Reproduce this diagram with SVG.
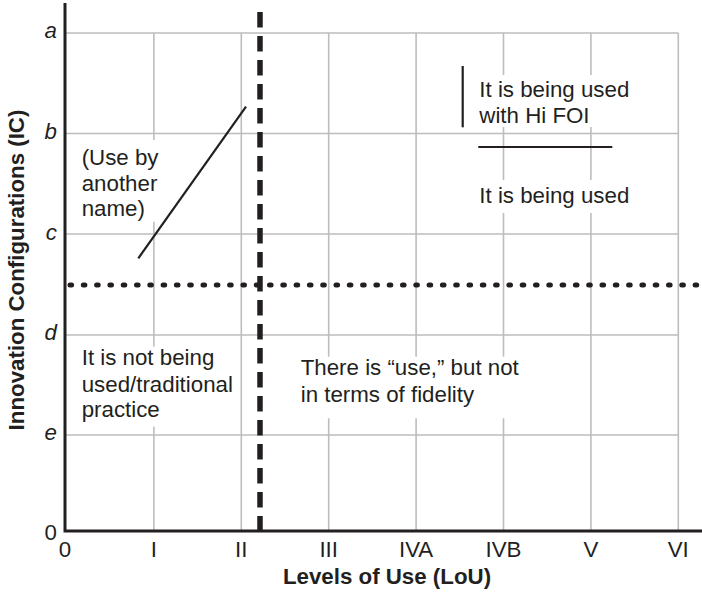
<svg xmlns="http://www.w3.org/2000/svg" width="702" height="599" viewBox="0 0 702 599">
  <style>
    text { font-family: "Liberation Sans", Arial, Helvetica, sans-serif; font-size: 22.3px; fill: #231f20; }
    .grid line { stroke: #bdbdbd; stroke-width: 1.6; }
    .axis { stroke: #231f20; stroke-width: 3; fill: none; }
    .ylab { font-style: italic; text-anchor: end; }
    .xlab { text-anchor: middle; }
    .title { font-weight: bold; }
    .mask { fill: #ffffff; }
    .mark { stroke: #231f20; stroke-width: 2.2; fill: none; }
  </style>

  <rect width="702" height="599" fill="#ffffff"/>

  <!-- grid -->
  <g class="grid">
    <line x1="65" y1="33" x2="678.3" y2="33"/>
    <line x1="65" y1="133.5" x2="678.3" y2="133.5"/>
    <line x1="65" y1="234" x2="678.3" y2="234"/>
    <line x1="65" y1="335" x2="678.3" y2="335"/>
    <line x1="65" y1="435" x2="678.3" y2="435"/>
    <line x1="153.9" y1="33" x2="153.9" y2="531"/>
    <line x1="241.3" y1="33" x2="241.3" y2="531"/>
    <line x1="328.7" y1="33" x2="328.7" y2="531"/>
    <line x1="416.1" y1="33" x2="416.1" y2="531"/>
    <line x1="503.5" y1="33" x2="503.5" y2="531"/>
    <line x1="590.9" y1="33" x2="590.9" y2="531"/>
    <line x1="678.3" y1="33" x2="678.3" y2="531"/>
  </g>

  <!-- axes -->
  <g id="axes">
    <path class="axis" d="M65 3 V531 H702"/>
    <text class="ylab" x="57" y="38">a</text>
    <text class="ylab" x="57" y="139">b</text>
    <text class="ylab" x="57" y="239.5">c</text>
    <text class="ylab" x="57" y="340">d</text>
    <text class="ylab" x="57" y="440">e</text>
    <text x="57" y="540" text-anchor="end">0</text>
    <text class="xlab" x="65" y="557">0</text>
    <text class="xlab" x="153.9" y="557">I</text>
    <text class="xlab" x="241.3" y="557">II</text>
    <text class="xlab" x="328.7" y="557">III</text>
    <text class="xlab" x="416.1" y="557">IVA</text>
    <text class="xlab" x="503.5" y="557">IVB</text>
    <text class="xlab" x="590.9" y="557">V</text>
    <text class="xlab" x="678.3" y="557">VI</text>
    <text class="title" x="387" y="584" text-anchor="middle">Levels of Use (LoU)</text>
    <text class="title" x="24" y="270" text-anchor="middle" transform="rotate(-90 24 270)">Innovation Configurations (IC)</text>
  </g>

  <!-- quadrant dividers -->
  <g id="dividers">
    <line x1="260" y1="12" x2="260" y2="531" stroke="#231f20" stroke-width="5.5" stroke-dasharray="15.5 8.5"/>
    <line x1="70" y1="285" x2="702" y2="285" stroke="#231f20" stroke-width="5" stroke-linecap="round" stroke-dasharray="1.6 11.7"/>
  </g>

  <!-- region labels -->
  <g id="other-name">
    <rect class="mask" x="76" y="140" width="88" height="81.7"/>
    <text x="81.7" y="165">(Use by</text>
    <text x="81.7" y="190.5">another</text>
    <text x="81.7" y="215.5">name)</text>
    <line class="mark" x1="138.3" y1="258.3" x2="246" y2="106.7"/>
  </g>

  <g id="hi-foi">
    <rect class="mask" x="474" y="75" width="162" height="52"/>
    <text x="479.3" y="96.5">It is being used</text>
    <text x="479.3" y="123">with Hi FOI</text>
    <line class="mark" x1="462.7" y1="66" x2="462.7" y2="127.3"/>
    <line class="mark" x1="478.3" y1="147" x2="612.3" y2="147"/>
  </g>

  <g id="being-used">
    <rect class="mask" x="474" y="180" width="162" height="33"/>
    <text x="479.3" y="203.3">It is being used</text>
  </g>

  <g id="not-used">
    <rect class="mask" x="76" y="346.7" width="162" height="80"/>
    <text x="81.7" y="365">It is not being</text>
    <text x="81.7" y="391.5">used/traditional</text>
    <text x="81.7" y="416.5">practice</text>
  </g>

  <g id="use-no-fidelity">
    <rect class="mask" x="295" y="356.7" width="230" height="61.6"/>
    <text x="300.7" y="375">There is “use,” but not</text>
    <text x="300.7" y="401.5">in terms of fidelity</text>
  </g>
</svg>
